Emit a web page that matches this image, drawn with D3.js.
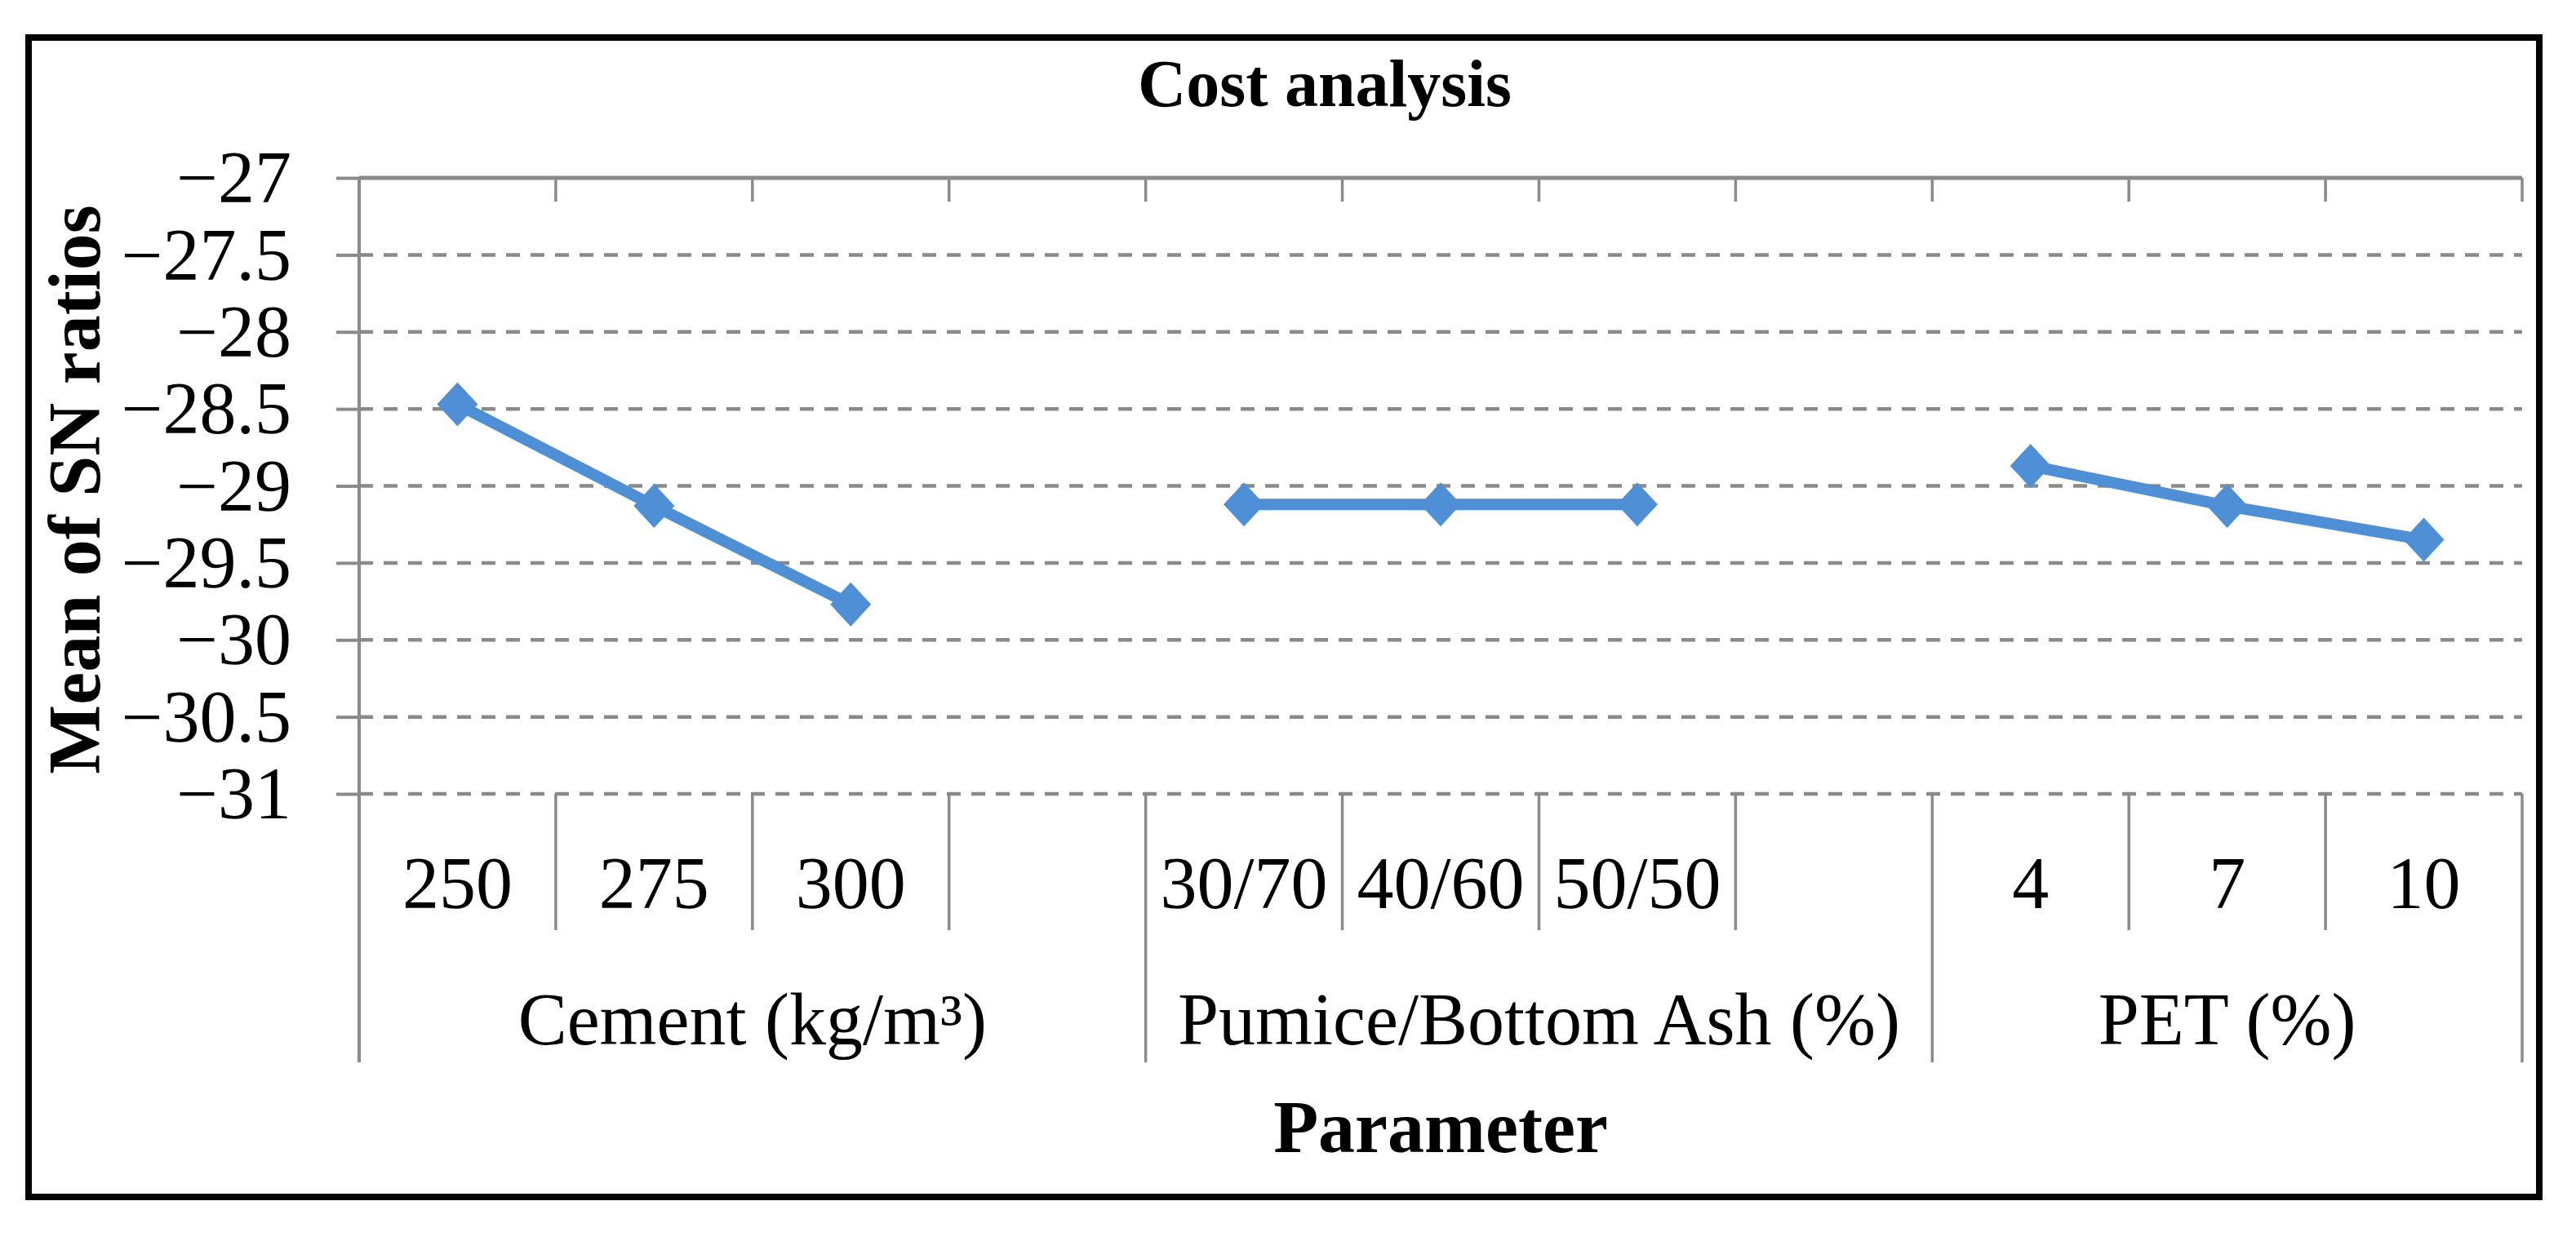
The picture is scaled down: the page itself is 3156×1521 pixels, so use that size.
<!DOCTYPE html>
<html>
<head>
<meta charset="utf-8">
<script src="https://cdn.jsdelivr.net/npm/d3@7"></script>
<style>
  body { margin: 0; background: #fff; }
  text { font-family: 'Liberation Serif', 'Times New Roman', serif; fill: #000; }
</style>
</head>
<body>
<div id="chart"></div>
<script>
// ********** DATA **********
const groupNames = ['Cement (kg/m³)', 'Pumice/Bottom Ash (%)', 'PET (%)'];
const cementLevels = ['250', '275', '300'];
const ashLevels = ['30/70', '40/60', '50/50'];
const petLevels = ['4', '7', '10'];
const cementSN = [-28.47, -29.13, -29.77];
const ashSN = [-29.12, -29.12, -29.12];
const petSN = [-28.87, -29.13, -29.35];
const yTicks = [-27, -27.5, -28, -28.5, -29, -29.5, -30, -30.5, -31];

// Set up size
const width = 3156;
const height = 1521;
const plotLeft = 440, plotRight = 3090;
const plotTop = 218, plotBottom = 973;
const AXIS_GRAY = '#8a8a8a';
const LINE_BLUE = '#4f8fd5';

// Build the slot list: each group gets its levels plus one blank slot (not after the last group)
var groups = [
  {name: groupNames[0], levels: cementLevels, values: cementSN},
  {name: groupNames[1], levels: ashLevels, values: ashSN},
  {name: groupNames[2], levels: petLevels, values: petSN}
];
var slots = [];
groups.forEach(function(g, gi) {
  g.levels.forEach(function(l, li) {
    slots.push({id: gi + '-' + li, group: gi, label: l, value: g.values[li]});
  });
  if (gi < groups.length - 1) slots.push({id: gi + '-blank', group: gi, label: '', value: null});
});

// Scales
var x = d3.scaleBand()
  .domain(slots.map(d => d.id))
  .range([plotLeft, plotRight])
  .padding(0);

var y = d3.scaleLinear()
  .domain([-27, -31])
  .range([plotTop, plotBottom]);

var svg = d3.select('#chart').append('svg')
  .attr('width', width)
  .attr('height', height);

svg.append('rect')
  .attr('width', width)
  .attr('height', height)
  .attr('fill', '#fff');

// outer frame
svg.append('rect')
  .attr('x', 35)
  .attr('y', 46)
  .attr('width', 3076)
  .attr('height', 1421)
  .attr('fill', 'none')
  .attr('stroke', '#000')
  .attr('stroke-width', 8);

// ********** GRIDLINES + Y AXIS **********

svg.append('g')
  .selectAll('line')
  .data(yTicks.slice(1))
  .join('line')
  .attr('x1', plotLeft)
  .attr('x2', plotRight)
  .attr('y1', d => y(d))
  .attr('y2', d => y(d))
  .attr('stroke', AXIS_GRAY)
  .attr('stroke-width', 4.5)
  .attr('stroke-dasharray', '17,13');

var yAxis = svg.append('g')
  .attr('transform', 'translate(' + plotLeft + ',0)')
  .call(d3.axisLeft(y).tickValues(yTicks).tickSize(28).tickPadding(55).tickFormat(d3.format('~g')));

yAxis.select('.domain').remove();
yAxis.selectAll('.tick line')
  .attr('stroke', AXIS_GRAY)
  .attr('stroke-width', 4);
yAxis.selectAll('.tick text')
  .attr('font-size', 90)
  .attr('dy', '0.33em');

// vertical axis line runs down through the category label area
svg.append('line')
  .attr('x1', plotLeft).attr('x2', plotLeft)
  .attr('y1', plotTop).attr('y2', 1302)
  .attr('stroke', AXIS_GRAY)
  .attr('stroke-width', 4);

// ********** CATEGORY AXIS (drawn at the top, labels low) **********

var boundaries = slots.map(d => x(d.id)).concat([plotRight]);

svg.append('line')
  .attr('x1', plotLeft).attr('x2', plotRight)
  .attr('y1', plotTop).attr('y2', plotTop)
  .attr('stroke', AXIS_GRAY)
  .attr('stroke-width', 5);

svg.append('g')
  .selectAll('line')
  .data(boundaries.slice(1))
  .join('line')
  .attr('x1', d => d).attr('x2', d => d)
  .attr('y1', plotTop).attr('y2', plotTop + 29)
  .attr('stroke', AXIS_GRAY)
  .attr('stroke-width', 3.5);

// group boundaries are long separators, the rest are short
var groupEdges = [plotRight];
slots.forEach(function(d, i) {
  if (i > 0 && slots[i - 1].group !== d.group) groupEdges.push(x(d.id));
});

svg.append('g')
  .selectAll('line')
  .data(boundaries.slice(1))
  .join('line')
  .attr('x1', d => d).attr('x2', d => d)
  .attr('y1', plotBottom)
  .attr('y2', d => groupEdges.indexOf(d) >= 0 ? 1302 : 1140)
  .attr('stroke', AXIS_GRAY)
  .attr('stroke-width', 3.5);

// level labels
svg.append('g')
  .selectAll('text')
  .data(slots.filter(d => d.label !== ''))
  .join('text')
  .attr('x', d => x(d.id) + x.bandwidth() / 2)
  .attr('y', 1113)
  .attr('text-anchor', 'middle')
  .attr('font-size', 90)
  .text(d => d.label);

// group labels, centred over all of the group's slots
svg.append('g')
  .selectAll('text')
  .data(groups)
  .join('text')
  .attr('x', function(g, gi) {
    var s = slots.filter(d => d.group === gi);
    return (x(s[0].id) + x(s[s.length - 1].id) + x.bandwidth()) / 2;
  })
  .attr('y', 1280)
  .attr('text-anchor', 'middle')
  .attr('font-size', 90)
  .text(g => g.name);

// ********** SERIES **********

var line = d3.line()
  .x(d => x(d.id) + x.bandwidth() / 2)
  .y(d => y(d.value));

groups.forEach(function(g, gi) {
  var pts = slots.filter(d => d.group === gi && d.value !== null);
  svg.append('path')
    .datum(pts)
    .attr('d', line)
    .attr('fill', 'none')
    .attr('stroke', LINE_BLUE)
    .attr('stroke-width', 14)
    .attr('stroke-linejoin', 'round');
});

svg.append('g')
  .selectAll('path')
  .data(slots.filter(d => d.value !== null))
  .join('path')
  .attr('transform', d => 'translate(' + (x(d.id) + x.bandwidth() / 2) + ',' + y(d.value) + ')')
  .attr('d', 'M0,-27L25,0L0,27L-25,0Z')
  .attr('fill', LINE_BLUE);

// ********** TITLES **********

svg.append('text')
  .attr('x', 1623)
  .attr('y', 130)
  .attr('text-anchor', 'middle')
  .attr('font-size', 82)
  .attr('font-weight', 'bold')
  .text('Cost analysis');

svg.append('text')
  .attr('transform', 'translate(122,600) rotate(-90)')
  .attr('text-anchor', 'middle')
  .attr('font-size', 90)
  .attr('font-weight', 'bold')
  .text('Mean of SN ratios');

svg.append('text')
  .attr('x', (plotLeft + plotRight) / 2)
  .attr('y', 1412)
  .attr('text-anchor', 'middle')
  .attr('font-size', 90)
  .attr('font-weight', 'bold')
  .text('Parameter');
</script>
</body>
</html>
